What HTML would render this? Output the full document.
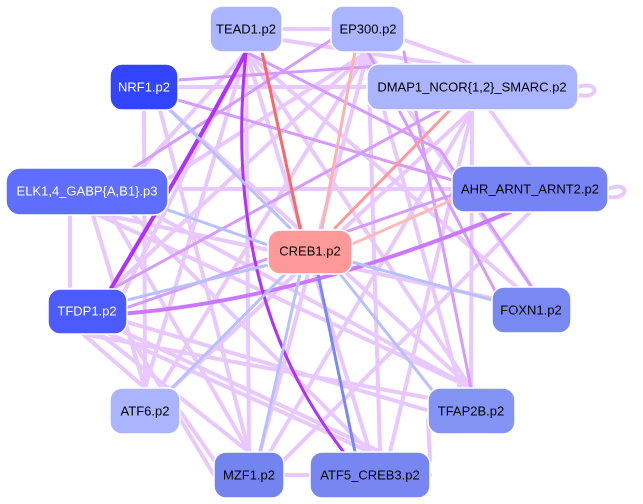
<!DOCTYPE html>
<html><head><style>
body{margin:0;background:#fff;width:643px;height:504px;overflow:hidden}
svg{display:block}
text{font-family:"Liberation Sans",Arial,sans-serif;font-size:13px;text-anchor:middle;dominant-baseline:central}
</style></head><body>
<svg width="643" height="504" viewBox="0 0 643 504">
<g fill="none" stroke-linecap="round">
<!-- light lavender edges -->
<g stroke="#e8c8ff" stroke-width="4">
<path d="M92,212 L145,388"/><path d="M110,212 L249,452"/><path d="M130,212 L370,452"/><path d="M150,212 L471,388"/>
<path d="M83,334 L145,388"/><path d="M100,334 L249,452"/><path d="M110,334 L370,452"/><path d="M120,320 L430,411"/>
<path d="M145,388 L92,212"/><path d="M145,388 L246,52"/><path d="M160,388 L368,52"/><path d="M170,390 L472,110"/>
<path d="M249,452 L246,52"/><path d="M260,452 L368,52"/><path d="M270,452 L472,110"/><path d="M284,460 L530,212"/>
<path d="M370,452 L246,52"/><path d="M380,452 L368,52"/><path d="M390,452 L472,110"/>
<path d="M471,388 L246,52"/><path d="M460,388 L368,52"/><path d="M471,388 L472,110"/><path d="M471,388 L92,212"/><path d="M440,400 L83,334"/>
<path d="M531,286 L368,52"/><path d="M520,290 L246,52"/><path d="M500,300 L92,212"/>
<path d="M120,300 L246,52"/><path d="M110,290 L368,52"/><path d="M150,190 L368,52"/><path d="M140,170 L246,52"/>
<path d="M178,87 L367,87"/><path d="M282,29 L331,29"/><path d="M404,40 L472,64"/><path d="M282,40 L440,64"/>
<path d="M144,110 L145,388"/><path d="M160,110 L249,452"/><path d="M170,110 L471,388"/><path d="M490,110 L530,166"/>
<path d="M180,189 L452,189"/><path d="M70,212 L70,286"/><path d="M214,475 L120,320"/><path d="M430,475 L120,330"/>
<path d="M284,475 L310,475"/><path d="M180,411 L214,460"/><path d="M428,420 L430,460"/>
<path d="M578,87 C600,80 600,100 578,95"/><path d="M608,189 C630,180 630,200 608,197"/>
</g>
<!-- medium purple edges -->
<g stroke="#d79bff" stroke-width="3">
<path d="M178,80 L410,64"/><path d="M120,310 L452,195"/><path d="M110,290 L440,110"/><path d="M531,286 L440,150 L246,52"/>
<path d="M500,300 L368,52"/><path d="M178,100 L452,180"/><path d="M130,170 L331,40"/><path d="M471,388 L404,52"/>
</g>
<path d="M120,314 Q300,300 510,212" stroke="#cc77ff" stroke-width="4"/>
<path d="M110,290 Q200,140 246,52" stroke="#b030ff" stroke-width="4"/>
<path d="M350,460 Q220,300 246,52" stroke="#b030ff" stroke-width="3"/>
<!-- blue edges to CREB -->
<g stroke="#b8c0ff" stroke-width="3">
<path d="M170,110 L290,228"/><path d="M168,210 L268,245"/><path d="M127,300 L268,265"/><path d="M492,300 L352,262"/>
<path d="M170,390 L285,274"/><path d="M260,452 L300,274"/><path d="M440,400 L340,274"/>
</g>
<path d="M355,452 L318,274" stroke="#7788ff" stroke-width="3"/>
<!-- red edges -->
<path d="M300,228 L262,52" stroke="#ff6666" stroke-width="3"/>
<path d="M322,228 L355,52" stroke="#ffb0b0" stroke-width="3"/>
<path d="M335,228 L450,110" stroke="#ff9999" stroke-width="3"/>
<path d="M350,245 L452,200" stroke="#ffbbbb" stroke-width="3"/>
</g>
<!-- nodes -->
<g stroke="#ffffff" stroke-width="1.5">
<rect x="210" y="6" width="72" height="46" rx="12" fill="#aab4ff"/>
<rect x="331" y="6" width="73" height="46" rx="12" fill="#aab4ff"/>
<rect x="110" y="64" width="68" height="46" rx="12" fill="#3344ff"/>
<rect x="367" y="64" width="211" height="46" rx="12" fill="#aab4ff"/>
<rect x="6" y="168" width="162" height="47" rx="14" fill="#5f6eff"/>
<rect x="452" y="166" width="156" height="46" rx="12" fill="#7583f4"/>
<rect x="268" y="230" width="84" height="44" rx="12" fill="#ff9999"/>
<rect x="48" y="289" width="79" height="45" rx="12" fill="#4b5bff"/>
<rect x="492" y="287" width="79" height="46" rx="12" fill="#7a88f2"/>
<rect x="110" y="388" width="70" height="46" rx="12" fill="#aab4ff"/>
<rect x="428" y="388" width="87" height="46" rx="12" fill="#8494f4"/>
<rect x="214" y="452" width="70" height="46" rx="12" fill="#7383f0"/>
<rect x="310" y="452" width="120" height="46" rx="12" fill="#7886f2"/>
</g>
<text x="246" y="29">TEAD1.p2</text>
<text x="368" y="29">EP300.p2</text>
<text x="144" y="87" fill="#fff">NRF1.p2</text>
<text x="472" y="87">DMAP1_NCOR{1,2}_SMARC.p2</text>
<text x="87" y="191" fill="#fff">ELK1,4_GABP{A,B1}.p3</text>
<text x="530" y="189">AHR_ARNT_ARNT2.p2</text>
<text x="310" y="251">CREB1.p2</text>
<text x="87" y="311" fill="#fff">TFDP1.p2</text>
<text x="531" y="310">FOXN1.p2</text>
<text x="145" y="411">ATF6.p2</text>
<text x="471" y="411">TFAP2B.p2</text>
<text x="249" y="475">MZF1.p2</text>
<text x="370" y="475">ATF5_CREB3.p2</text>
</svg>
</body></html>
